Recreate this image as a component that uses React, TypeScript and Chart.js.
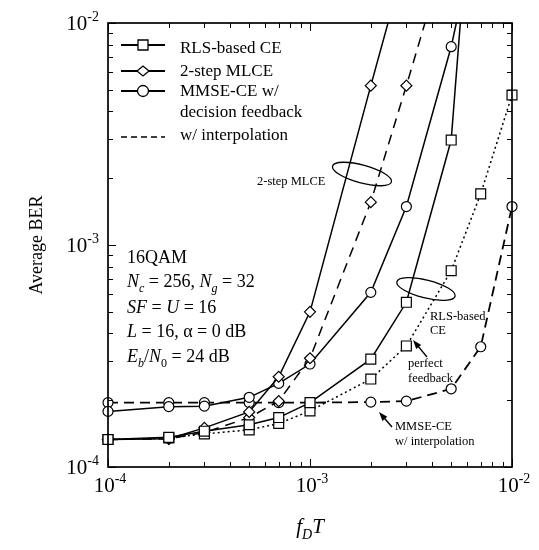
import React, { useEffect, useRef } from 'react';
import { Chart, registerables } from 'chart.js';
Chart.register(...registerables);

// ---- data ----
const fdT = [1e-4, 2e-4, 3e-4, 5e-4, 7e-4, 1e-3, 2e-3, 3e-3, 5e-3, 7e-3, 1e-2];
const rlsDecision = [1.33e-4, 1.36e-4, 1.45e-4, 1.55e-4, 1.67e-4, 1.95e-4, 3.06e-4, 5.52e-4, 2.97e-3, 0.15, null];
const rlsPerfect = [1.33e-4, 1.35e-4, 1.41e-4, 1.47e-4, 1.57e-4, 1.79e-4, 2.49e-4, 3.51e-4, 7.66e-4, 1.7e-3, 4.74e-3];
const mlceDecision = [1.33e-4, 1.34e-4, 1.5e-4, 1.77e-4, 2.55e-4, 5.0e-4, 5.22e-3, 0.02, null, null, null];
const mlceInterp = [1.33e-4, 1.34e-4, 1.43e-4, 1.67e-4, 1.98e-4, 3.09e-4, 1.56e-3, 5.22e-3, 0.025, null, null];
const mmseDecision = [1.78e-4, 1.87e-4, 1.88e-4, 2.06e-4, 2.38e-4, 2.91e-4, 6.12e-4, 1.49e-3, 7.82e-3, 0.032, null];
const mmseInterp = [1.95e-4, 1.95e-4, 1.95e-4, 1.95e-4, 1.95e-4, 1.95e-4, 1.96e-4, 1.98e-4, 2.25e-4, 3.48e-4, 1.49e-3];
const decadeExponents = [-4, -3, -2];
const legendLabels = ['RLS-based CE', '2-step MLCE', 'MMSE-CE w/', 'decision feedback', 'w/ interpolation'];

const SERIF = '"Liberation Serif", "Times New Roman", "DejaVu Serif", serif';

type Seg = { t: string; i?: boolean; sub?: boolean; sup?: boolean };

function segFont(s: Seg, size: number) {
  const sz = s.sub || s.sup ? Math.round(size * 0.68) : size;
  return `${s.i ? 'italic ' : ''}${sz}px ${SERIF}`;
}
function richWidth(ctx: CanvasRenderingContext2D, segs: Seg[], size: number) {
  let w = 0;
  for (const s of segs) { ctx.font = segFont(s, size); w += ctx.measureText(s.t).width; }
  return w;
}
function drawRich(ctx: CanvasRenderingContext2D, segs: Seg[], x: number, y: number, size: number, align: 'left' | 'center' | 'right' = 'left') {
  const w = richWidth(ctx, segs, size);
  let cx = align === 'left' ? x : align === 'center' ? x - w / 2 : x - w;
  ctx.textAlign = 'left';
  ctx.textBaseline = 'alphabetic';
  for (const s of segs) {
    ctx.font = segFont(s, size);
    const dy = s.sub ? size * 0.28 : s.sup ? -size * 0.42 : 0;
    ctx.fillText(s.t, cx, y + dy);
    cx += ctx.measureText(s.t).width;
  }
}

function arrow(ctx: CanvasRenderingContext2D, x1: number, y1: number, x2: number, y2: number) {
  const a = Math.atan2(y2 - y1, x2 - x1);
  const c = Math.cos(a), s = Math.sin(a);
  ctx.beginPath();
  ctx.moveTo(x1, y1);
  ctx.lineTo(x2 - 6 * c, y2 - 6 * s);
  ctx.lineWidth = 1.4;
  ctx.stroke();
  ctx.beginPath();
  ctx.moveTo(x2, y2);
  ctx.lineTo(x2 - 9 * c + 3.2 * s, y2 - 9 * s - 3.2 * c);
  ctx.lineTo(x2 - 9 * c - 3.2 * s, y2 - 9 * s + 3.2 * c);
  ctx.closePath();
  ctx.fill();
}

const decorPlugin = {
  id: 'decor',
  afterDraw(chart: any) {
    const { ctx, chartArea: a, scales } = chart;
    const xs = scales.x, ys = scales.y;
    ctx.save();
    ctx.strokeStyle = '#000';
    ctx.fillStyle = '#000';
    ctx.setLineDash([]);
    // frame
    ctx.lineWidth = 1.7;
    ctx.strokeRect(a.left, a.top, a.right - a.left, a.bottom - a.top);
    // ticks
    ctx.lineWidth = 1;
    ctx.beginPath();
    for (const d of decadeExponents) {
      for (let k = 1; k <= 9; k++) {
        const v = k * Math.pow(10, d);
        if (v > 1.0001e-2) break;
        const len = k === 1 ? 8 : 5;
        const px = Math.round(xs.getPixelForValue(v)) + 0.5;
        ctx.moveTo(px, a.bottom); ctx.lineTo(px, a.bottom - len);
        ctx.moveTo(px, a.top); ctx.lineTo(px, a.top + len);
        const py = Math.round(ys.getPixelForValue(v)) + 0.5;
        ctx.moveTo(a.left, py); ctx.lineTo(a.left + len, py);
        ctx.moveTo(a.right, py); ctx.lineTo(a.right - len, py);
      }
    }
    ctx.stroke();
    // tick labels
    for (const d of decadeExponents) {
      const v = Math.pow(10, d);
      const segs: Seg[] = [{ t: '10' }, { t: String(d), sup: true }];
      const px = xs.getPixelForValue(v);
      drawRich(ctx, segs, px + 2, a.bottom + 25, 21, 'center');
      const py = ys.getPixelForValue(v);
      drawRich(ctx, segs, a.left - 9, py + 7, 21, 'right');
    }
    // axis titles
    drawRich(ctx, [{ t: 'f', i: true }, { t: 'D', i: true, sub: true }, { t: 'T', i: true }], (a.left + a.right) / 2, 533, 21, 'center');
    ctx.save();
    ctx.translate(36, (a.top + a.bottom) / 2);
    ctx.rotate(-Math.PI / 2);
    ctx.font = `18px ${SERIF}`;
    ctx.textAlign = 'center';
    ctx.textBaseline = 'alphabetic';
    ctx.fillText('Average BER', 0, 6);
    ctx.restore();

    // legend
    const lx1 = 121, lx2 = 165, mx = 143, tx = 180;
    const rows = [45, 71, 91, 137];
    for (let r = 0; r < 4; r++) {
      ctx.setLineDash(r === 3 ? [6, 4] : []);
      ctx.lineWidth = r === 3 ? 1.5 : 2;
      ctx.beginPath(); ctx.moveTo(lx1, rows[r]); ctx.lineTo(lx2, rows[r]); ctx.stroke();
    }
    ctx.setLineDash([]);
    ctx.lineWidth = 1.3;
    ctx.fillStyle = '#fff';
    ctx.beginPath(); ctx.rect(mx - 5, rows[0] - 5, 10, 10); ctx.fill(); ctx.stroke();
    ctx.beginPath(); ctx.moveTo(mx - 6, rows[1]); ctx.lineTo(mx, rows[1] - 5); ctx.lineTo(mx + 6, rows[1]); ctx.lineTo(mx, rows[1] + 5); ctx.closePath(); ctx.fill(); ctx.stroke();
    ctx.beginPath(); ctx.arc(mx, rows[2], 5.5, 0, Math.PI * 2); ctx.fill(); ctx.stroke();
    ctx.fillStyle = '#000';
    ctx.font = `17px ${SERIF}`;
    ctx.textAlign = 'left';
    ctx.textBaseline = 'alphabetic';
    const lb = [53, 76, 96, 117, 140];
    legendLabels.forEach((t, i) => ctx.fillText(t, tx, lb[i]));

    // parameter block
    const ix = 127, fs = 18;
    drawRich(ctx, [{ t: '16QAM' }], ix, 263, fs);
    drawRich(ctx, [{ t: 'N', i: true }, { t: 'c', i: true, sub: true }, { t: ' = 256, ' }, { t: 'N', i: true }, { t: 'g', i: true, sub: true }, { t: ' = 32' }], ix, 287, fs);
    drawRich(ctx, [{ t: 'SF', i: true }, { t: ' = ' }, { t: 'U', i: true }, { t: ' = 16' }], ix, 313, fs);
    drawRich(ctx, [{ t: 'L', i: true }, { t: ' = 16, α = 0 dB' }], ix, 337, fs);
    drawRich(ctx, [{ t: 'E', i: true }, { t: 'b', i: true, sub: true }, { t: '/' }, { t: 'N', i: true }, { t: '0', sub: true }, { t: ' = 24 dB' }], ix, 362, fs);

    // annotations
    ctx.font = `12.5px ${SERIF}`;
    ctx.fillStyle = '#000';
    ctx.fillText('2-step MLCE', 257, 185);
    ctx.fillText('RLS-based', 430, 320);
    ctx.fillText('CE', 430, 334);
    ctx.fillText('perfect', 408, 367);
    ctx.fillText('feedback', 408, 382);
    ctx.fillText('MMSE-CE', 395, 430);
    ctx.fillText('w/ interpolation', 395, 445);

    ctx.lineWidth = 1.3;
    ctx.beginPath(); ctx.ellipse(362, 174, 30.5, 9, 15 * Math.PI / 180, 0, Math.PI * 2); ctx.stroke();
    ctx.beginPath(); ctx.ellipse(426, 289, 30, 9, 14 * Math.PI / 180, 0, Math.PI * 2); ctx.stroke();
    arrow(ctx, 427, 357, 413, 340);
    arrow(ctx, 392, 427, 379, 412);
    ctx.restore();
  },
};

function series(vals: (number | null)[]) {
  return fdT.map((x, i) => ({ x, y: vals[i] }));
}

export default function App() {
  const ref = useRef<HTMLCanvasElement>(null);
  useEffect(() => {
    if (!ref.current) return;
    const base = {
      borderColor: '#000',
      pointBorderColor: '#000',
      pointBackgroundColor: '#fff',
      pointBorderWidth: 1.2,
      fill: false,
      tension: 0,
      spanGaps: false,
      clip: { left: 10, right: 10, top: 0, bottom: 10 },
    };
    const chart = new Chart(ref.current, {
      type: 'line',
      data: {
        datasets: [
          { ...base, label: 'RLS-based CE', data: series(rlsDecision), borderWidth: 1.5, pointStyle: 'rect', pointRadius: 7 },
          { ...base, label: 'RLS perfect feedback', data: series(rlsPerfect), borderWidth: 1.5, borderDash: [2, 3], pointStyle: 'rect', pointRadius: 7 },
          { ...base, label: '2-step MLCE', data: series(mlceDecision), borderWidth: 1.5, pointStyle: 'rectRot', pointRadius: 5.5 },
          { ...base, label: '2-step MLCE w/ interpolation', data: series(mlceInterp), borderWidth: 1.5, borderDash: [10, 7], pointStyle: 'rectRot', pointRadius: 5.5 },
          { ...base, label: 'MMSE-CE w/ decision feedback', data: series(mmseDecision), borderWidth: 1.5, pointStyle: 'circle', pointRadius: 5 },
          { ...base, label: 'MMSE-CE w/ interpolation', data: series(mmseInterp), borderWidth: 1.8, borderDash: [10, 6], pointStyle: 'circle', pointRadius: 5 },
        ] as any,
      },
      options: {
        animation: false,
        responsive: false,
        maintainAspectRatio: false,
        devicePixelRatio: 1,
        layout: { padding: { left: 108, right: 27, top: 23, bottom: 83 } },
        plugins: { legend: { display: false }, title: { display: false }, tooltip: { enabled: false } },
        scales: {
          x: { type: 'logarithmic', min: 1e-4, max: 1e-2, display: false },
          y: { type: 'logarithmic', min: 1e-4, max: 1e-2, display: false },
        },
        events: [],
      } as any,
      plugins: [decorPlugin],
    });
    return () => chart.destroy();
  }, []);
  return (
    <div style={{ position: 'absolute', left: 0, top: 0, width: 539, height: 550, background: '#fff' }}>
      <canvas ref={ref} width={539} height={550} style={{ display: 'block', width: 539, height: 550 }} />
    </div>
  );
}
